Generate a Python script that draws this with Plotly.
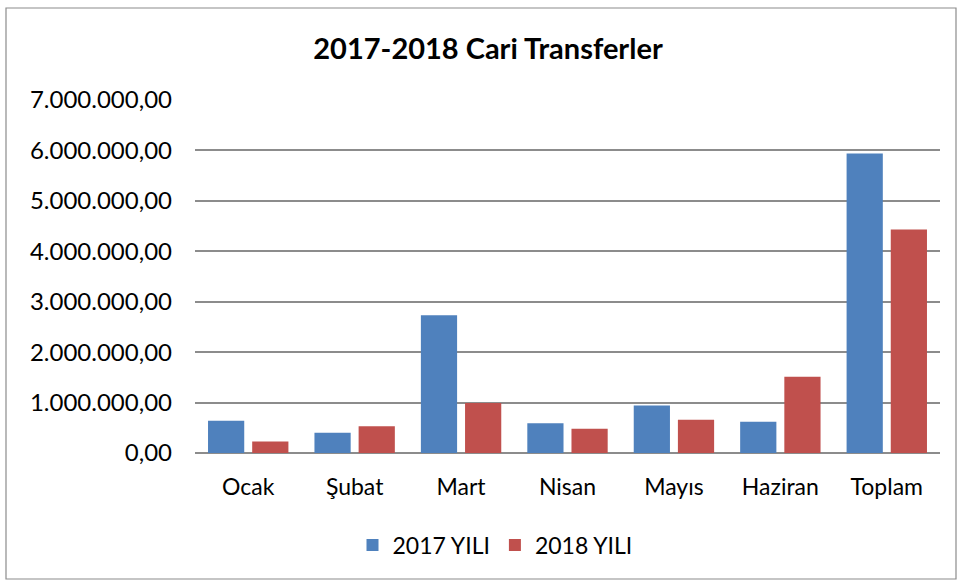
import plotly.graph_objects as go

categories = ["Ocak", "Şubat", "Mart", "Nisan", "Mayıs", "Haziran", "Toplam"]
values_2017 = [640000, 400000, 2730000, 590000, 940000, 620000, 5940000]
values_2018 = [230000, 530000, 990000, 480000, 660000, 1510000, 4430000]
tick_vals = [0, 1000000, 2000000, 3000000, 4000000, 5000000, 6000000, 7000000]

FONT = "Lato, 'Open Sans', sans-serif"

fig = go.Figure()
fig.add_trace(go.Bar(name="2017 YILI", x=categories, y=values_2017,
                     marker=dict(color="#4F81BD", line=dict(width=0))))
fig.add_trace(go.Bar(name="2018 YILI", x=categories, y=values_2018,
                     marker=dict(color="#C0504D", line=dict(width=0))))

L, R, T, B = 195, 19, 100, 128
W, H = 959, 581
pw, ph = W - L - R, H - T - B

fig.update_layout(
    width=W, height=H,
    margin=dict(l=L, r=R, t=T, b=B),
    paper_bgcolor="white", plot_bgcolor="white",
    separators=",.",
    barmode="group", bargap=0.17, bargroupgap=0.18,
    font=dict(family=FONT, size=22, color="#000000"),
    title=dict(text="<b>2017-2018 Cari Transferler</b>", x=(488 - L) / pw, xanchor="center",
               xref="paper",
               y=1 - 49 / H, yanchor="middle",
               font=dict(family=FONT, size=29, color="#000000")),
    legend=dict(orientation="h", x=(495 - L) / pw, xanchor="center", y=-(545 - 453) / ph,
                yanchor="middle", font=dict(size=23), itemwidth=30,
                traceorder="normal"),
    xaxis=dict(showgrid=False, showline=False, ticks="", tickfont=dict(size=23),
               ticklabelstandoff=18),
    yaxis=dict(range=[0, 7000000], tickvals=tick_vals, tickformat=",.2f",
               showgrid=True, gridcolor="#8C8C8C", gridwidth=1.5,
               zeroline=True, zerolinecolor="#8C8C8C", zerolinewidth=1.5,
               showline=False, ticks="", ticklabelstandoff=22,
               tickfont=dict(size=24)),
    shapes=[dict(type="rect", xref="paper", yref="paper",
                 x0=(6 - L) / pw, x1=(956 - L) / pw,
                 y0=(H - T - B - (579 - T)) / ph, y1=(H - B - 8) / ph,
                 line=dict(color="#8C8C8C", width=1.2), fillcolor="rgba(0,0,0,0)",
                 layer="below")],
)

fig.write_html("out.html", config={"displayModeBar": False},
               post_script="document.body.style.margin='0';")
